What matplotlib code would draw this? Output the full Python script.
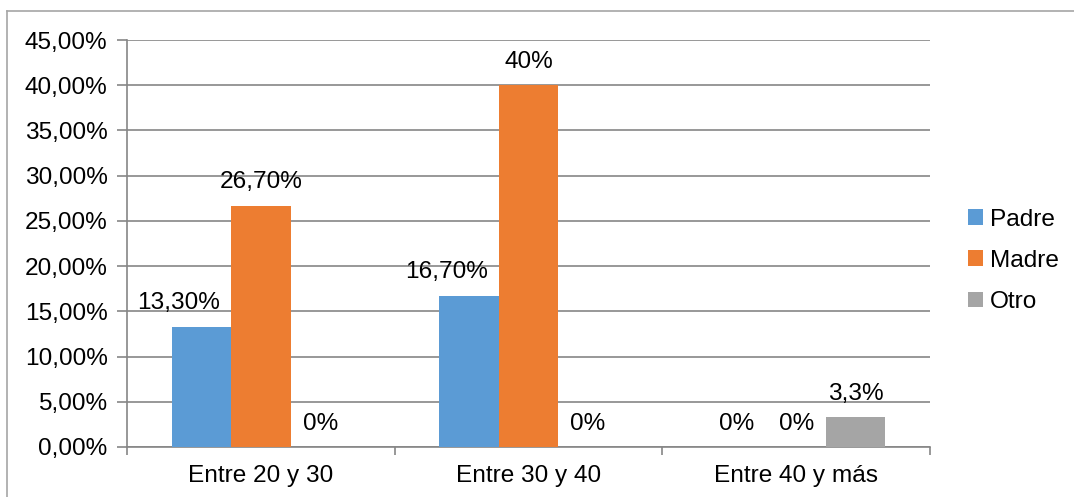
import matplotlib
matplotlib.use("Agg")
import matplotlib.pyplot as plt
from matplotlib.lines import Line2D
import numpy as np

categories = ["Entre 20 y 30", "Entre 30 y 40", "Entre 40 y más"]
series_names = ["Padre", "Madre", "Otro"]
padre = [13.3, 16.7, 0.0]
madre = [26.7, 40.0, 0.0]
otro = [0.0, 0.0, 3.3]
labels_padre = ["13,30%", "16,70%", "0%"]
labels_madre = ["26,70%", "40%", "0%"]
labels_otro = ["0%", "0%", "3,3%"]
yticks = [0, 5, 10, 15, 20, 25, 30, 35, 40, 45]
ytick_labels = ["0,00%", "5,00%", "10,00%", "15,00%", "20,00%", "25,00%",
                "30,00%", "35,00%", "40,00%", "45,00%"]
colors = ["#5B9BD5", "#ED7D31", "#A5A5A5"]

plt.rcParams['font.family'] = ['Liberation Sans', 'DejaVu Sans']
FS = 17.6

fig = plt.figure(figsize=(10.74, 4.97), dpi=100)
W, H = 1074, 497
ax = fig.add_axes([127 / W, (H - 447) / H, (930 - 127) / W, (447 - 40) / H])

# outer border
fig.add_artist(Line2D([7 / W, 7 / W], [0, (H - 11) / H], transform=fig.transFigure,
                      color="#A6A6A6", lw=1.2))
fig.add_artist(Line2D([7 / W, 1.0], [(H - 11) / H, (H - 11) / H], transform=fig.transFigure,
                      color="#A6A6A6", lw=1.2))

x = np.arange(len(categories))
bw = 0.2222
all_series = [padre, madre, otro]
all_labels = [labels_padre, labels_madre, labels_otro]
for i, (vals, labs, c, name) in enumerate(zip(all_series, all_labels, colors, series_names)):
    pos = x + (i - 1) * bw
    ax.bar(pos, vals, width=bw, color=c, label=name, zorder=3)
    for p, v, l in zip(pos, vals, labs):
        # Excel nudges the Padre labels left so they do not overlap the taller Madre bar
        dx = -16.5 if (i == 0 and v > 0) else 0
        ax.annotate(l, (p, v), xytext=(dx, 9), textcoords="offset points",
                    ha="center", va="bottom", fontsize=FS, color="#000000")

ax.set_xlim(-0.5, 2.5)
ax.set_ylim(0, 45)
ax.set_yticks(yticks)
ax.set_yticklabels(ytick_labels, fontsize=FS)
ax.set_xticks(x)
ax.set_xticklabels(categories, fontsize=FS)
ax.set_xticks([-0.5, 0.5, 1.5, 2.5], minor=True)
ax.tick_params(axis="x", which="major", length=0, pad=13)
ax.tick_params(axis="x", which="minor", length=6, color="#868686", width=1.2)
ax.tick_params(axis="y", length=7, color="#868686", width=1.2, pad=7)
ax.grid(axis="y", color="#868686", lw=1.2, zorder=0)
for s in ["top", "right"]:
    ax.spines[s].set_visible(False)
for s in ["left", "bottom"]:
    ax.spines[s].set_color("#868686")
    ax.spines[s].set_linewidth(1.2)

leg = ax.legend(loc="center left", bbox_to_anchor=(1.035, 0.457), frameon=False,
                fontsize=FS, handlelength=0.62, handleheight=0.62, handletextpad=0.3,
                labelspacing=0.78, borderaxespad=0)

fig.savefig("out.png", dpi=100)
